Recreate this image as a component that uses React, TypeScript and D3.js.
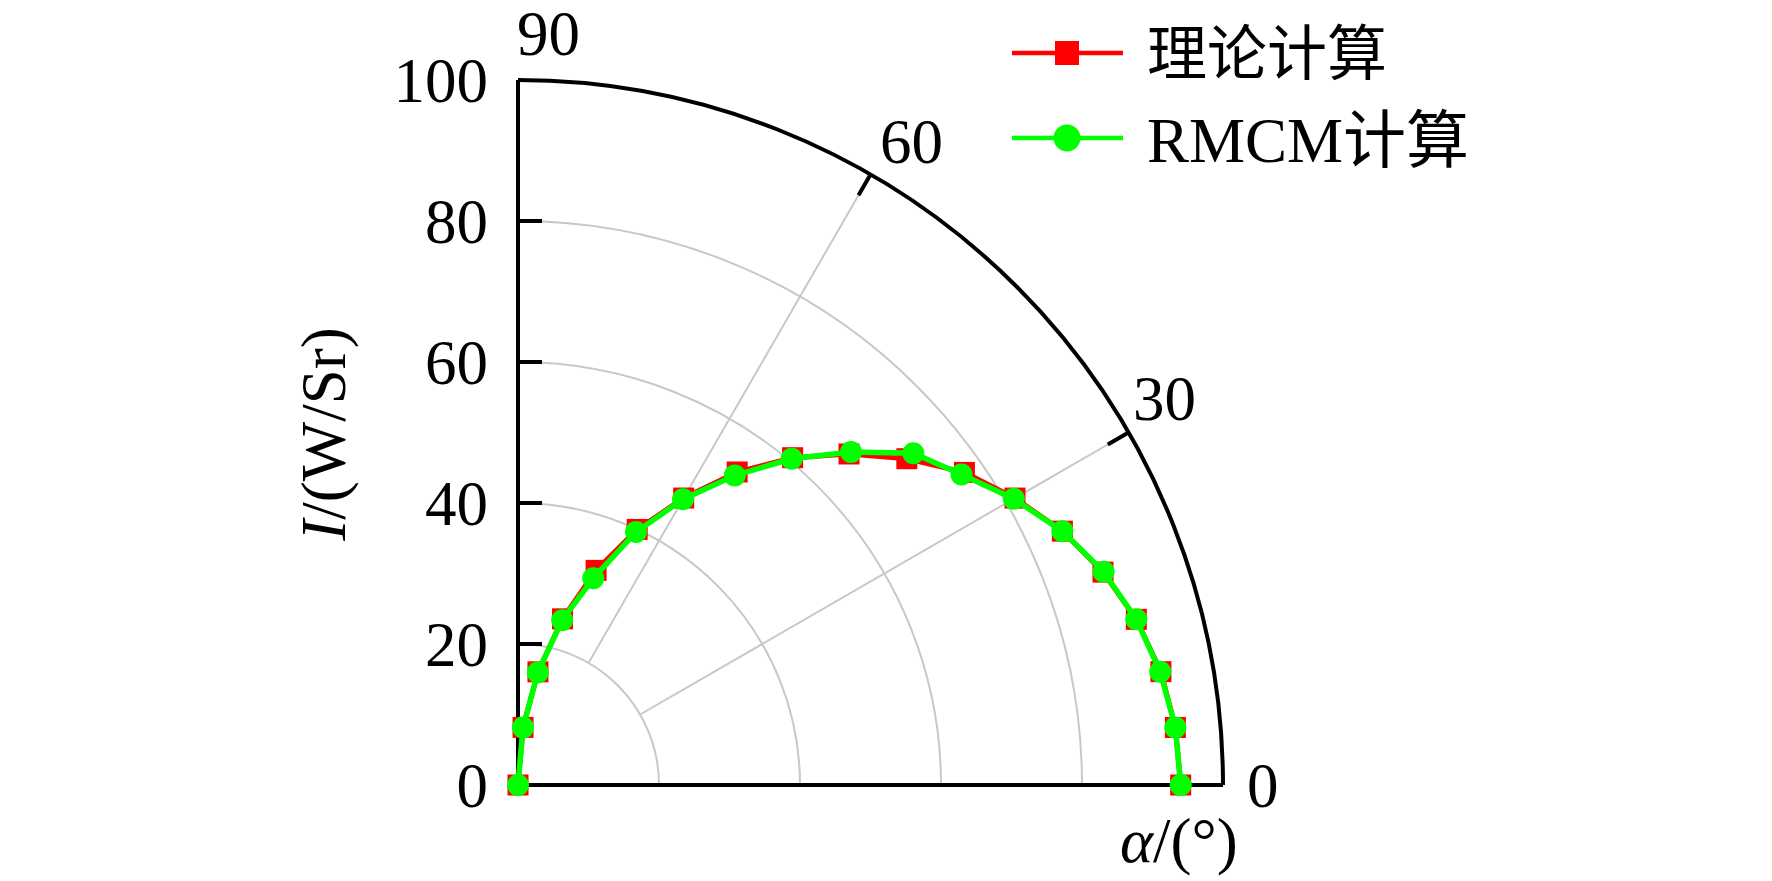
import React from "react";
import * as d3 from "d3";

const angles = [0, 5, 10, 15, 20, 25, 30, 35, 40, 45, 50, 55, 60, 65, 70, 75, 80, 85, 90];
const theoryValues = [94.0, 93.6, 92.6, 90.8, 88.3, 85.2, 81.4, 77.3, 72.0, 66.4, 60.6, 54.2, 47.0, 40.0, 32.4, 24.4, 16.3, 8.2, 0];
const rmcmValues = [94.0, 93.6, 92.5, 90.8, 88.4, 85.2, 81.2, 76.8, 73.2, 66.8, 60.4, 53.6, 46.8, 39.6, 31.2, 24.2, 16.2, 8.2, 0];
const radialTicks = [0, 20, 40, 60, 80, 100];
const gridCircles = [20, 40, 60, 80];
const angleTicks = [0, 30, 60, 90];
const seriesNames = ["理论计算", "RMCM计算"];

const W = 1772;
const H = 881;
const OX = 518;
const OY = 785;
const R = 705;
const FONT = "'Liberation Serif', 'Times New Roman', 'Noto Sans CJK SC', serif";

const r = d3.scaleLinear().domain([0, 100]).range([0, R]);
const toRad = (deg: number) => (deg * Math.PI) / 180;
const px = (deg: number, v: number) => OX + r(v) * Math.cos(toRad(deg));
const py = (deg: number, v: number) => OY - r(v) * Math.sin(toRad(deg));

function arcPath(v: number) {
  const p = d3.path();
  p.moveTo(OX, OY - r(v));
  p.arc(OX, OY, r(v), -Math.PI / 2, 0, false);
  return p.toString();
}

export default function App() {
  const theoryPts = angles.map((a, i) => [px(a, theoryValues[i]), py(a, theoryValues[i])] as [number, number]);
  const rmcmPts = angles.map((a, i) => [px(a, rmcmValues[i]), py(a, rmcmValues[i])] as [number, number]);
  const line = d3.line<[number, number]>();

  const angleLabelPos: Record<number, [number, number, string]> = {
    0: [1247, OY + 22, "start"],
    30: [1133, 420, "start"],
    60: [880, 163, "start"],
    90: [517, 55, "start"],
  };

  return (
    <div style={{ position: "fixed", left: 0, top: 0, background: "#fff" }}>
      <svg width={W} height={H} viewBox={`0 0 ${W} ${H}`} style={{ display: "block", fontFamily: FONT }}>
        <rect width={W} height={H} fill="#fff" />
        {gridCircles.map((v) => (
          <path key={v} d={arcPath(v)} fill="none" stroke="#c8c8c8" strokeWidth={2} />
        ))}
        {[30, 60].map((a) => (
          <line key={a} x1={px(a, 20)} y1={py(a, 20)} x2={px(a, 100)} y2={py(a, 100)} stroke="#c8c8c8" strokeWidth={2} />
        ))}
        <path d={arcPath(100)} fill="none" stroke="#000" strokeWidth={4} />
        <line x1={OX} y1={OY} x2={OX} y2={OY - r(100)} stroke="#000" strokeWidth={4} />
        <line x1={OX} y1={OY} x2={OX + r(100)} y2={OY} stroke="#000" strokeWidth={4} />
        {radialTicks.filter((v) => v > 0 && v < 100).map((v) => (
          <line key={v} x1={OX} y1={OY - r(v)} x2={OX + 24} y2={OY - r(v)} stroke="#000" strokeWidth={4} />
        ))}
        {[30, 60].map((a) => (
          <line key={a} x1={px(a, 100)} y1={py(a, 100)} x2={px(a, 96.6)} y2={py(a, 96.6)} stroke="#000" strokeWidth={4} />
        ))}
        {radialTicks.map((v) => (
          <text key={v} x={488} y={OY - r(v)} dy="0.35em" textAnchor="end" fontSize={63} fill="#000">
            {v}
          </text>
        ))}
        {angleTicks.map((a) => {
          const [x, y, anchor] = angleLabelPos[a];
          return (
            <text key={a} x={x} y={y} textAnchor={anchor as any} fontSize={63} fill="#000">
              {a}
            </text>
          );
        })}
        <path d={line(theoryPts) || ""} fill="none" stroke="#ff0000" strokeWidth={5} />
        {theoryPts.map((p, i) => (
          <rect key={i} x={p[0] - 10.5} y={p[1] - 10.5} width={21} height={21} fill="#ff0000" />
        ))}
        <path d={line(rmcmPts) || ""} fill="none" stroke="#00ff00" strokeWidth={5.5} />
        {rmcmPts.map((p, i) => (
          <circle key={i} cx={p[0]} cy={p[1]} r={11} fill="#00ff00" />
        ))}
        <text x={1120} y={862} fontSize={63} fill="#000">
          <tspan fontStyle="italic">α</tspan>/(°)
        </text>
        <text transform={`translate(345,434) rotate(-90)`} textAnchor="middle" fontSize={63} fill="#000">
          <tspan fontStyle="italic">I</tspan>/(W/Sr)
        </text>
        <g>
          <line x1={1012} y1={53} x2={1123} y2={53} stroke="#ff0000" strokeWidth={4.5} />
          <rect x={1055} y={41} width={24} height={24} fill="#ff0000" />
          <text x={1147} y={75} fontSize={60} fill="#000">{seriesNames[0]}</text>
          <line x1={1012} y1={138} x2={1123} y2={138} stroke="#00ff00" strokeWidth={4.5} />
          <circle cx={1067} cy={138} r={13.5} fill="#00ff00" />
          <text x={1147} y={162} fontSize={63} fill="#000">{seriesNames[1]}</text>
        </g>
      </svg>
    </div>
  );
}
